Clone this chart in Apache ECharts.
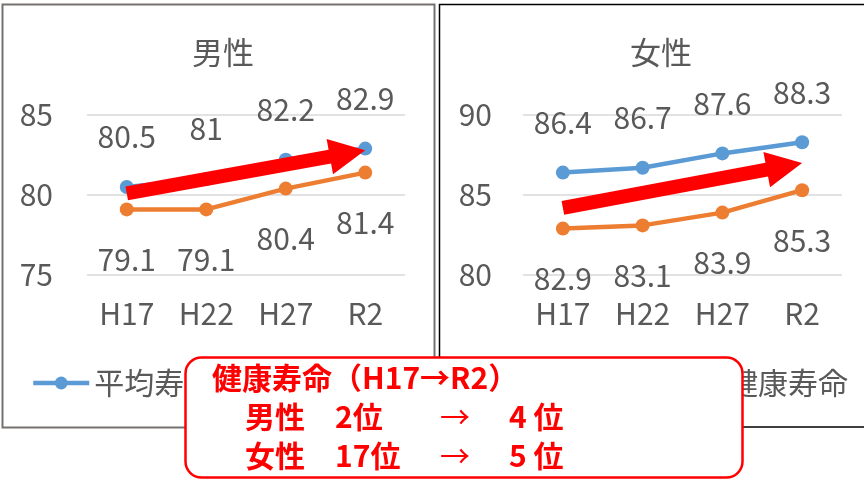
<!DOCTYPE html>
<html>
<head>
<meta charset="utf-8">
<script src="https://cdn.jsdelivr.net/npm/echarts@6/dist/echarts.min.js"></script>
<style>
    html, body { margin: 0; padding: 0; background: #fff; }
    #myChart { width: 864px; height: 480px; }
</style>
</head>
<body>
<div id="myChart"></div>
<script>
    // data
    var categories = ['H17', 'H22', 'H27', 'R2'];
    var maleAvg = [80.5, 81, 82.2, 82.9];
    var maleHealthy = [79.1, 79.1, 80.4, 81.4];
    var femaleAvg = [86.4, 86.7, 87.6, 88.3];
    var femaleHealthy = [82.9, 83.1, 83.9, 85.3];
    var maleTicks = [75, 80, 85];
    var femaleTicks = [80, 85, 90];
    // red trend arrows: [startIndex, startValue, endIndex, endValue]
    var maleArrow = [0, 80.1, 3, 82.8];
    var femaleArrow = [0, 84.2, 3, 87.0];

    var FONT = '"Noto Sans CJK JP", "Noto Sans", sans-serif';
    var GREY = '#595959';
    var BLUE = '#5b9bd5';
    var ORANGE = '#ed7d31';

    var myChart = echarts.init(document.getElementById('myChart'));

    function arrowItem(params, api) {
        var p0 = api.coord([api.value(0), api.value(1)]);
        var p1 = api.coord([api.value(2), api.value(3)]);
        var dx = p1[0] - p0[0], dy = p1[1] - p0[1];
        var len = Math.sqrt(dx * dx + dy * dy);
        var ux = dx / len, uy = dy / len;
        var nx = -uy, ny = ux;
        var shaft = 7, headLen = 36, headHalf = 18;
        var bx = p1[0] - ux * headLen, by = p1[1] - uy * headLen;
        return {
            type: 'polygon',
            shape: {
                points: [
                    [p0[0] + nx * shaft, p0[1] + ny * shaft],
                    [bx + nx * shaft, by + ny * shaft],
                    [bx + nx * headHalf, by + ny * headHalf],
                    p1,
                    [bx - nx * headHalf, by - ny * headHalf],
                    [bx - nx * shaft, by - ny * shaft],
                    [p0[0] - nx * shaft, p0[1] - ny * shaft]
                ]
            },
            style: {fill: '#ff0000'}
        };
    }

    function lineSeries(name, data, idx, color, pos) {
        return {
            name: name,
            type: 'line',
            xAxisIndex: idx,
            yAxisIndex: idx,
            data: data,
            symbol: 'circle',
            symbolSize: 14,
            lineStyle: {width: 4.5, color: color},
            itemStyle: {color: color},
            label: {show: true, position: pos, distance: 28, fontSize: 30, color: GREY, fontFamily: FONT},
            emphasis: {disabled: true},
            z: 3
        };
    }

    function xAxis(idx) {
        return {
            type: 'category', gridIndex: idx, data: categories,
            axisLine: {show: false}, axisTick: {show: false},
            axisLabel: {fontSize: 30, color: GREY, margin: 24, fontFamily: FONT}
        };
    }

    function yAxis(idx, ticks, margin) {
        return {
            type: 'value', gridIndex: idx,
            min: ticks[0], max: ticks[ticks.length - 1], interval: ticks[1] - ticks[0],
            axisLine: {show: false}, axisTick: {show: false},
            axisLabel: {fontSize: 30, color: GREY, margin: margin, fontFamily: FONT},
            splitLine: {lineStyle: {color: '#d9d9d9', width: 1.5}}
        };
    }

    var legendText = {fontSize: 30, color: GREY, fontFamily: FONT};

    var option = {
        animation: false,
        textStyle: {fontFamily: FONT},
        title: [
            {text: '男性', left: 218, top: 32, textAlign: 'center',
                textStyle: {fontSize: 31, fontWeight: 'normal', color: GREY, fontFamily: FONT}},
            {text: '女性', left: 656, top: 32, textAlign: 'center',
                textStyle: {fontSize: 31, fontWeight: 'normal', color: GREY, fontFamily: FONT}}
        ],
        legend: [
            {data: ['平均寿命', '健康寿命'], left: 26, top: 363, itemWidth: 56, itemHeight: 16,
                itemGap: 42, textStyle: legendText, lineStyle: {width: 4.5}},
            {data: ['平均寿命', '健康寿命'], right: 11, top: 363, itemWidth: 56, itemHeight: 16,
                itemGap: 42, textStyle: legendText, lineStyle: {width: 4.5}}
        ],
        grid: [
            {left: 87, top: 115, width: 318, height: 160},
            {left: 523, top: 115, width: 319, height: 160}
        ],
        xAxis: [xAxis(0), xAxis(1)],
        yAxis: [yAxis(0, maleTicks, 34), yAxis(1, femaleTicks, 31)],
        series: [
            lineSeries('平均寿命', maleAvg, 0, BLUE, 'top'),
            lineSeries('健康寿命', maleHealthy, 0, ORANGE, 'bottom'),
            lineSeries('平均寿命', femaleAvg, 1, BLUE, 'top'),
            lineSeries('健康寿命', femaleHealthy, 1, ORANGE, 'bottom'),
            {type: 'custom', xAxisIndex: 0, yAxisIndex: 0, data: [maleArrow], renderItem: arrowItem,
                silent: true, clip: false, z: 5},
            {type: 'custom', xAxisIndex: 1, yAxisIndex: 1, data: [femaleArrow], renderItem: arrowItem,
                silent: true, clip: false, z: 5}
        ],
        graphic: {
            elements: [
                {type: 'rect', shape: {x: 2.5, y: 4.5, width: 432, height: 423}, z: -10,
                    style: {fill: null, stroke: '#767171', lineWidth: 2}},
                {type: 'rect', shape: {x: 439.5, y: 4.5, width: 440, height: 422.5}, z: -10,
                    style: {fill: null, stroke: '#000', lineWidth: 1.5}},
                {type: 'rect', shape: {x: 185.5, y: 357.5, width: 557, height: 120, r: 16}, z: 100,
                    style: {fill: '#fff', stroke: '#ff0000', lineWidth: 2.5}},
                {type: 'text', x: 212, y: 378, z: 101,
                    style: {text: '健康寿命（H17→R2）', font: 'bold 30px ' + FONT, fill: '#ff0000', textVerticalAlign: 'middle'}},
                {type: 'text', x: 245, y: 417, z: 101,
                    style: {text: '男性　2位', font: 'bold 30px ' + FONT, fill: '#ff0000', textVerticalAlign: 'middle'}},
                {type: 'text', x: 440, y: 417, z: 101,
                    style: {text: '→', font: '30px ' + FONT, fill: '#ff0000', textVerticalAlign: 'middle'}},
                {type: 'text', x: 509, y: 417, z: 101,
                    style: {text: '4 位', font: 'bold 30px ' + FONT, fill: '#ff0000', textVerticalAlign: 'middle'}},
                {type: 'text', x: 245, y: 456, z: 101,
                    style: {text: '女性　17位', font: 'bold 30px ' + FONT, fill: '#ff0000', textVerticalAlign: 'middle'}},
                {type: 'text', x: 440, y: 456, z: 101,
                    style: {text: '→', font: '30px ' + FONT, fill: '#ff0000', textVerticalAlign: 'middle'}},
                {type: 'text', x: 509, y: 456, z: 101,
                    style: {text: '5 位', font: 'bold 30px ' + FONT, fill: '#ff0000', textVerticalAlign: 'middle'}}
            ]
        }
    };

    myChart.setOption(option);
</script>
</body>
</html>
